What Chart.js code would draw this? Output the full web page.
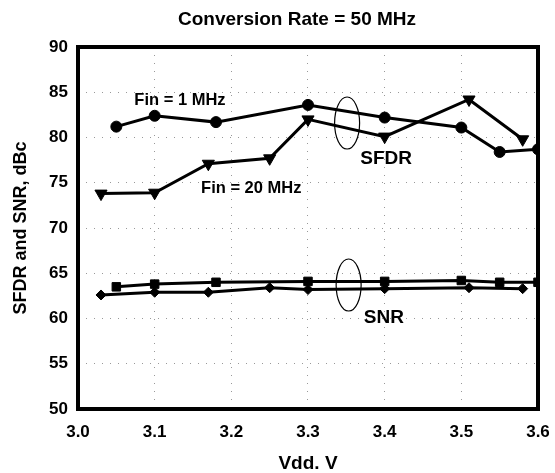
<!DOCTYPE html>
<html>
<head>
<meta charset="utf-8">
<script src="https://cdn.jsdelivr.net/npm/chart.js@4/dist/chart.umd.min.js"></script>
<style>
html,body{margin:0;padding:0;background:#fff;}
#wrap{width:555px;height:473px;position:relative;}
</style>
</head>
<body>
<div id="wrap"><canvas id="c" width="555" height="473"></canvas></div>
<script>
// ---- data ----
const chartTitle = "Conversion Rate = 50 MHz";
const xTitle = "Vdd. V";
const yTitle = "SFDR and SNR, dBc";
const sfdr1X = [3.05, 3.10, 3.18, 3.30, 3.40, 3.50, 3.55, 3.60];
const sfdr1Y = [81.2, 82.4, 81.7, 83.6, 82.2, 81.1, 78.4, 78.7];
const sfdr20X = [3.03, 3.10, 3.17, 3.25, 3.30, 3.40, 3.51, 3.58];
const sfdr20Y = [73.8, 73.9, 77.1, 77.7, 82.0, 80.1, 84.2, 79.8];
const snr1X = [3.05, 3.10, 3.18, 3.30, 3.40, 3.50, 3.55, 3.60];
const snr1Y = [63.5, 63.8, 64.0, 64.1, 64.1, 64.2, 64.0, 64.0];
const snr20X = [3.03, 3.10, 3.17, 3.25, 3.30, 3.40, 3.51, 3.58];
const snr20Y = [62.6, 62.9, 62.9, 63.4, 63.2, 63.3, 63.4, 63.3];
const xTickLabels = ["3.0","3.1","3.2","3.3","3.4","3.5","3.6"];
const yTickLabels = ["50","55","60","65","70","75","80","85","90"];
// annotation labels (data coordinates)
const noteTexts = ["Fin = 1 MHz", "Fin = 20 MHz", "SFDR", "SNR"];
const noteX = [3.133, 3.226, 3.402, 3.399];
const noteY = [84.1, 74.4, 77.6, 60.1];
const ellipseX = [3.351, 3.353];
const ellipseY = [81.6, 63.7];

const FONT = "'Liberation Sans', Arial, Helvetica, sans-serif";
const pts = (xs, ys) => xs.map((x, i) => ({x: x, y: ys[i]}));

function ds(xs, ys, style, radius, rot) {
  return {
    data: pts(xs, ys),
    borderColor: '#000',
    backgroundColor: '#000',
    borderWidth: 3,
    pointStyle: style,
    pointRadius: radius,
    pointRotation: rot || 0,
    pointBackgroundColor: '#000',
    pointBorderColor: '#000',
    pointBorderWidth: 1,
    tension: 0,
    fill: false
  };
}

const decor = {
  id: 'decor',
  afterDatasetsDraw(chart) {
    const ctx = chart.ctx, a = chart.chartArea;
    const xs = chart.scales.x, ys = chart.scales.y;
    ctx.save();
    // frame
    ctx.strokeStyle = '#000';
    ctx.lineWidth = 4;
    ctx.strokeRect(a.left, a.top, a.right - a.left, a.bottom - a.top);
    // ellipses
    ctx.lineWidth = 1.2;
    for (let i = 0; i < ellipseX.length; i++) {
      ctx.beginPath();
      ctx.ellipse(xs.getPixelForValue(ellipseX[i]), ys.getPixelForValue(ellipseY[i]), 12.5, 26, 0, 0, Math.PI * 2);
      ctx.stroke();
    }
    // notes
    ctx.fillStyle = '#000';
    ctx.textAlign = 'center';
    ctx.textBaseline = 'middle';
    for (let i = 0; i < noteTexts.length; i++) {
      ctx.font = (i >= 2 ? "bold 19px " : "bold 16.5px ") + FONT;
      ctx.fillText(noteTexts[i], xs.getPixelForValue(noteX[i]), ys.getPixelForValue(noteY[i]));
    }
    // title
    ctx.font = "bold 19px " + FONT;
    ctx.fillText(chartTitle, 297, 20);
    ctx.restore();
  }
};

new Chart(document.getElementById('c'), {
  type: 'line',
  data: {
    datasets: [
      ds(sfdr1X, sfdr1Y, 'circle', 5.5),
      ds(sfdr20X, sfdr20Y, 'triangle', 7, 180),
      ds(snr1X, snr1Y, 'rect', 6),
      ds(snr20X, snr20Y, 'rectRot', 5)
    ]
  },
  options: {
    responsive: false,
    animation: false,
    devicePixelRatio: 1,
    layout: {padding: {top: 47, right: 17, left: 6, bottom: 0}},
    plugins: {legend: {display: false}, tooltip: {enabled: false}, title: {display: false}},
    scales: {
      x: {
        type: 'linear', min: 3.0, max: 3.6,
        afterFit(s) { s.height = 64; s.paddingLeft = 0; s.paddingRight = 0; },
        afterBuildTicks(s) { s.ticks = xTickLabels.map(v => ({value: parseFloat(v)})); },
        ticks: {
          color: '#000', font: {family: FONT, size: 17, weight: 'bold'}, padding: 13,
          callback: (v, i) => xTickLabels[i]
        },
        grid: {color: '#999', lineWidth: 1, drawTicks: false, tickLength: 0},
        border: {display: false, dash: [1, 7]},
        title: {display: true, text: xTitle, color: '#000', font: {family: FONT, size: 19, weight: 'bold', lineHeight: 1}, padding: {top: 8, bottom: 0}}
      },
      y: {
        type: 'linear', min: 50, max: 90,
        afterFit(s) { s.width = 72; s.paddingTop = 0; s.paddingBottom = 0; },
        afterBuildTicks(s) { s.ticks = yTickLabels.map(v => ({value: parseFloat(v)})); },
        ticks: {
          color: '#000', font: {family: FONT, size: 17, weight: 'bold'}, padding: 10,
          callback: (v, i) => yTickLabels[i]
        },
        grid: {color: '#999', lineWidth: 1, drawTicks: false, tickLength: 0},
        border: {display: false, dash: [1, 7]},
        title: {display: true, text: yTitle, color: '#000', font: {family: FONT, size: 18, weight: 'bold'}, padding: {bottom: 4}}
      }
    }
  },
  plugins: [decor]
});
</script>
</body>
</html>
